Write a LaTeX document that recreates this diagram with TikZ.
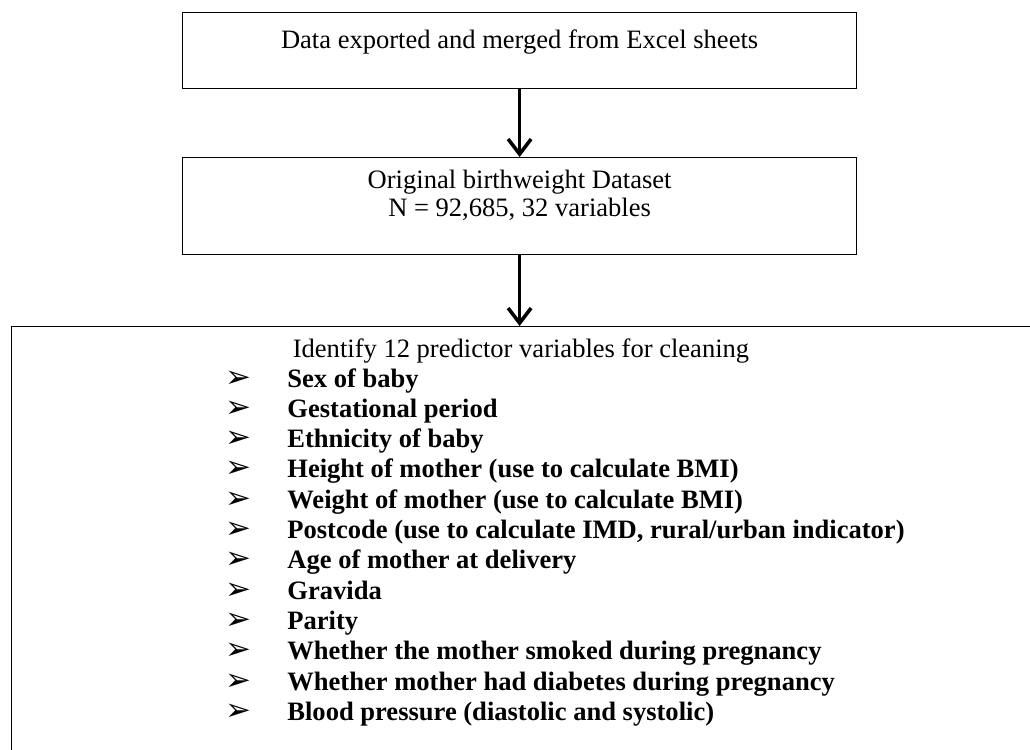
\documentclass[tikz,border=0pt]{standalone}
\usepackage{fontspec}
\setmainfont{Liberation Serif}
\newfontfamily\arrowsym{DejaVu Sans}
\usepackage{xcolor}
\definecolor{boxline}{HTML}{000000}
\usepackage{tikz}
\usetikzlibrary{arrows.meta, positioning}
\tikzset{
  flowbox/.style={rectangle, draw=boxline, line width=0.6pt, fill=white, inner sep=0pt, font=\fontsize{12}{12.7}\selectfont},
  flowarr/.style={-{Straight Barb[length=6.8pt, width=10.4pt]}, line width=1.6pt, color=boxline},
  headtxt/.style={font=\fontsize{12}{13.7}\selectfont, inner sep=0pt},
  itemtxt/.style={font=\fontsize{12}{13.7}\selectfont\bfseries, inner sep=0pt},
}
\newcommand{\listmark}{\makebox[28pt][l]{\arrowsym\fontsize{14}{13.7}\selectfont ➢}}

\begin{document}
\begin{tikzpicture}[x=0.452pt, y=-0.452pt]
  \clip (0,0) rectangle (1030,750);
  \node[flowbox, anchor=north west, minimum width=304.6pt, text height=16.3pt, text depth=18.1pt] (export) at (182,12) {Data exported and merged from Excel sheets};
  \node[flowbox, anchor=north west, minimum width=304.6pt, text height=14pt, text depth=29.9pt] (orig) at (182,157) {\begin{tabular}[t]{@{}c@{}}Original birthweight Dataset\\ N = 92,685, 32 variables\end{tabular}};
  \node[flowbox, anchor=north west, minimum width=461pt, minimum height=200pt] (vars) at (11,326) {};
  \node[headtxt, anchor=base] (varshead) at (521,357) {Identify 12 predictor variables for cleaning};
  \node[itemtxt, anchor=base west] (varlist) at (225,387) {\begin{tabular}[t]{@{}l@{}}
    \listmark Sex of baby\\
    \listmark Gestational period\\
    \listmark Ethnicity of baby\\
    \listmark Height of mother (use to calculate BMI)\\
    \listmark Weight of mother (use to calculate BMI)\\
    \listmark Postcode (use to calculate IMD, rural/urban indicator)\\
    \listmark Age of mother at delivery\\
    \listmark Gravida\\
    \listmark Parity\\
    \listmark Whether the mother smoked during pregnancy\\
    \listmark Whether mother had diabetes during pregnancy\\
    \listmark Blood pressure (diastolic and systolic)
  \end{tabular}};
  \draw[flowarr] (export.south) -- (orig.north);
  \draw[flowarr] (orig.south) -- (orig.south |- vars.north);
\end{tikzpicture}
\end{document}
